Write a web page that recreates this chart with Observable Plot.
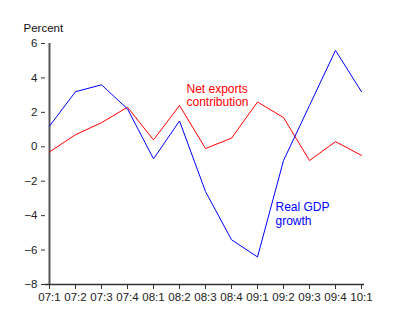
<!DOCTYPE html>
<html>
<head>
<meta charset="utf-8">
<script src="https://cdn.jsdelivr.net/npm/d3@7"></script>
<script src="https://cdn.jsdelivr.net/npm/@observablehq/plot@0.6"></script>
<style>
  html, body { margin: 0; padding: 0; background: #fff; }
</style>
</head>
<body>
<div id="chart"></div>
<script>
const quarters = ["07:1","07:2","07:3","07:4","08:1","08:2","08:3","08:4","09:1","09:2","09:3","09:4","10:1"];
const gdpGrowth = [1.2, 3.2, 3.6, 2.2, -0.7, 1.5, -2.6, -5.4, -6.4, -0.8, 2.4, 5.6, 3.2];
const netExports = [-0.3, 0.7, 1.4, 2.3, 0.4, 2.4, -0.1, 0.5, 2.6, 1.7, -0.8, 0.3, -0.5];
const yTicks = [-8, -6, -4, -2, 0, 2, 4, 6];

const gdpData = quarters.map((q, i) => ({q, v: gdpGrowth[i]}));
const nxData = quarters.map((q, i) => ({q, v: netExports[i]}));

const chart = Plot.plot({
  width: 400,
  height: 323,
  marginLeft: 45,
  marginRight: 36,
  marginTop: 43,
  marginBottom: 39,
  style: {fontFamily: "'Liberation Sans', Arial, sans-serif", background: "#fff", color: "#222"},
  x: {type: "point", domain: quarters, padding: 0},
  y: {domain: [-8, 6]},
  marks: [
    Plot.axisY({ticks: yTicks, tickSize: 4, tickPadding: 4, fontSize: 11.5, label: null, stroke: "#333"}),
    Plot.axisX({tickSize: 5, tickPadding: 3, fontSize: 11.5, label: null, stroke: "#333"}),
    Plot.ruleX([quarters[0]], {y1: -8, y2: 6, stroke: "#555", strokeWidth: 2}),
    Plot.ruleY([-8], {stroke: "#333", strokeWidth: 1.5}),
    Plot.line(nxData, {x: "q", y: "v", stroke: "#ff0000", strokeWidth: 1}),
    Plot.line(gdpData, {x: "q", y: "v", stroke: "#0000ff", strokeWidth: 1}),
    Plot.text(["Percent"], {frameAnchor: "top-left", lineAnchor: "middle", textAnchor: "start", dx: -22, dy: -15, fontSize: 11.5, fill: "#111"}),
    Plot.text(["Net exports\ncontribution"], {x: () => "08:2", y: () => 3.0, textAnchor: "start", dx: 7, fontSize: 12, lineHeight: 1.15, fill: "#ff0000"}),
    Plot.text(["Real GDP\ngrowth"], {x: () => "09:2", y: () => -3.9, textAnchor: "start", dx: -8, fontSize: 12, lineHeight: 1.15, fill: "#0000ff"})
  ]
});
document.getElementById("chart").appendChild(chart);
</script>
</body>
</html>
